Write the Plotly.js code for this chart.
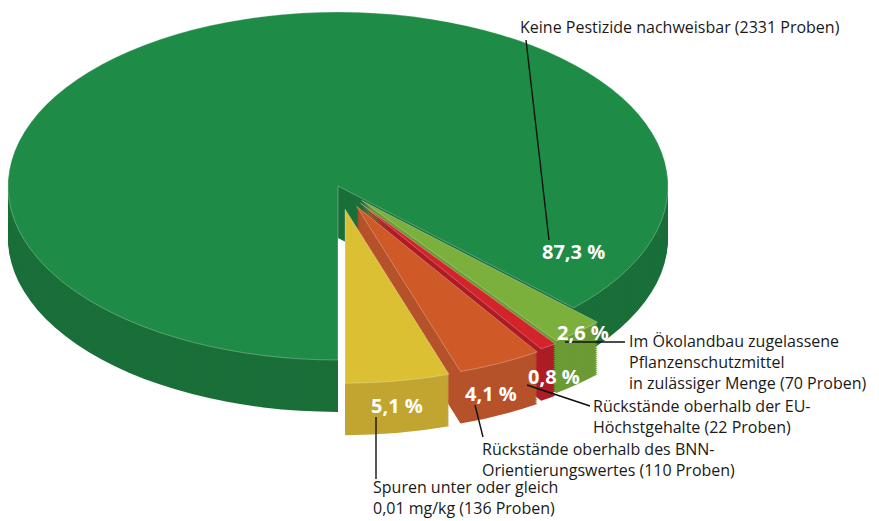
<!DOCTYPE html>
<html><head><meta charset="utf-8">
<script src="https://cdn.plot.ly/plotly-3.0.1.min.js"></script>
<style>html,body{margin:0;padding:0;background:#fff}#chart{width:879px;height:521px}</style>
</head><body><div id="chart"></div>
<script>
// ---- data (clockwise from the big slice) ----
const categories = [
  "Keine Pestizide nachweisbar",
  "Im Ökolandbau zugelassene Pflanzenschutzmittel in zulässiger Menge",
  "Rückstände oberhalb der EU-Höchstgehalte",
  "Rückstände oberhalb des BNN-Orientierungswertes",
  "Spuren unter oder gleich 0,01 mg/kg"
];
const samples = [2331, 70, 22, 110, 136];
const percentLabels = ["87,3 %", "2,6 %", "0,8 %", "4,1 %", "5,1 %"];
const calloutLabels = [
  "Keine Pestizide nachweisbar (2331 Proben)",
  "Im Ökolandbau zugelassene<br>Pflanzenschutzmittel<br>in zulässiger Menge (70 Proben)",
  "Rückstände oberhalb der EU-<br>Höchstgehalte (22 Proben)",
  "Rückstände oberhalb des BNN-<br>Orientierungswertes (110 Proben)",
  "Spuren unter oder gleich<br>0,01 mg/kg (136 Proben)"
];

// ---- styles / layout ----
const topColors  = ["#1e8c47", "#7bb03d", "#d3232b", "#d05a27", "#dcc034"];
const sideColors = ["#1a6f39", "#6c9a35", "#ad1d26", "#b6522a", "#c2a531"];
const pulls = [0, 0.11, 0.12, 0.13, 0.135];
const CX = 338, CY = 186, RX = 330, RY = 174, DEPTH = 52, LAYERS = 26;
const W = 879, H = 521;
const px = x => x / W, py = y => 1 - y / H;

const percentPos = [[573, 251], [583, 332], [554, 376], [491, 393], [397, 405]];
const calloutPos = [[519, 27], [628, 362], [592, 416], [481, 459], [372, 497]];
const leaderLines = [
  [[526, 40], [549, 240]],
  [[565, 342], [625, 342]],
  [[527, 385], [590, 406]],
  [[475, 405], [483, 437]],
  [[376, 417], [376, 479]]
];

function pieTrace(colors, lw, lc) {
  return {
    type: 'pie', values: samples, labels: categories, sort: false,
    direction: 'clockwise', rotation: 180, pull: pulls,
    marker: {colors: colors, line: {width: lw, color: lc || 'rgba(0,0,0,0)'}},
    textinfo: 'none', hoverinfo: 'skip', showlegend: false,
    domain: {x: [0.2, 0.8], y: [0.1, 0.9]}
  };
}
const traces = [], depths = [];
for (let k = LAYERS; k >= 1; k--) { traces.push(pieTrace(sideColors, 0)); depths.push(DEPTH * k / LAYERS); }
traces.push(pieTrace(topColors, 0.8, 'rgba(255,255,255,0.35)')); depths.push(0);

const annotations = [];
percentLabels.forEach((t, i) => annotations.push({
  text: t, x: px(percentPos[i][0]), y: py(percentPos[i][1]), xref: 'paper', yref: 'paper',
  xanchor: 'center', yanchor: 'middle', showarrow: false,
  font: {family: 'Open Sans', size: 20, color: '#ffffff', weight: 'bold'}
}));
calloutLabels.forEach((t, i) => annotations.push({
  text: t, x: px(calloutPos[i][0]), y: py(calloutPos[i][1]), xref: 'paper', yref: 'paper',
  xanchor: 'left', yanchor: 'middle', align: 'left', showarrow: false, borderpad: 0,
  font: {family: 'Open Sans', size: 16, color: '#1a1a1a'}
}));
const shapes = leaderLines.map(l => ({
  type: 'line', xref: 'paper', yref: 'paper',
  x0: px(l[0][0]), y0: py(l[0][1]), x1: px(l[1][0]), y1: py(l[1][1]),
  line: {color: '#111111', width: 1.4}
}));

const layout = {
  width: W, height: H, margin: {l: 0, r: 0, t: 0, b: 0},
  paper_bgcolor: '#ffffff', plot_bgcolor: '#ffffff', showlegend: false,
  annotations: annotations, shapes: shapes
};

const gd = document.getElementById('chart');
Plotly.newPlot(gd, traces, layout, {staticPlot: true, displayModeBar: false}).then(() => {
  const groups = gd.querySelectorAll('.pielayer .trace');
  groups.forEach((g, i) => {
    const cd = gd.calcdata[i][0];
    const sx = RX / cd.r, sy = RY / cd.r;
    const tx = CX - cd.cx * sx, ty = CY + depths[i] - cd.cy * sy;
    g.setAttribute('transform', `matrix(${sx},0,0,${sy},${tx},${ty})`);
    g.querySelectorAll('path').forEach(p => p.style.vectorEffect = 'non-scaling-stroke');
  });
});
</script></body></html>
